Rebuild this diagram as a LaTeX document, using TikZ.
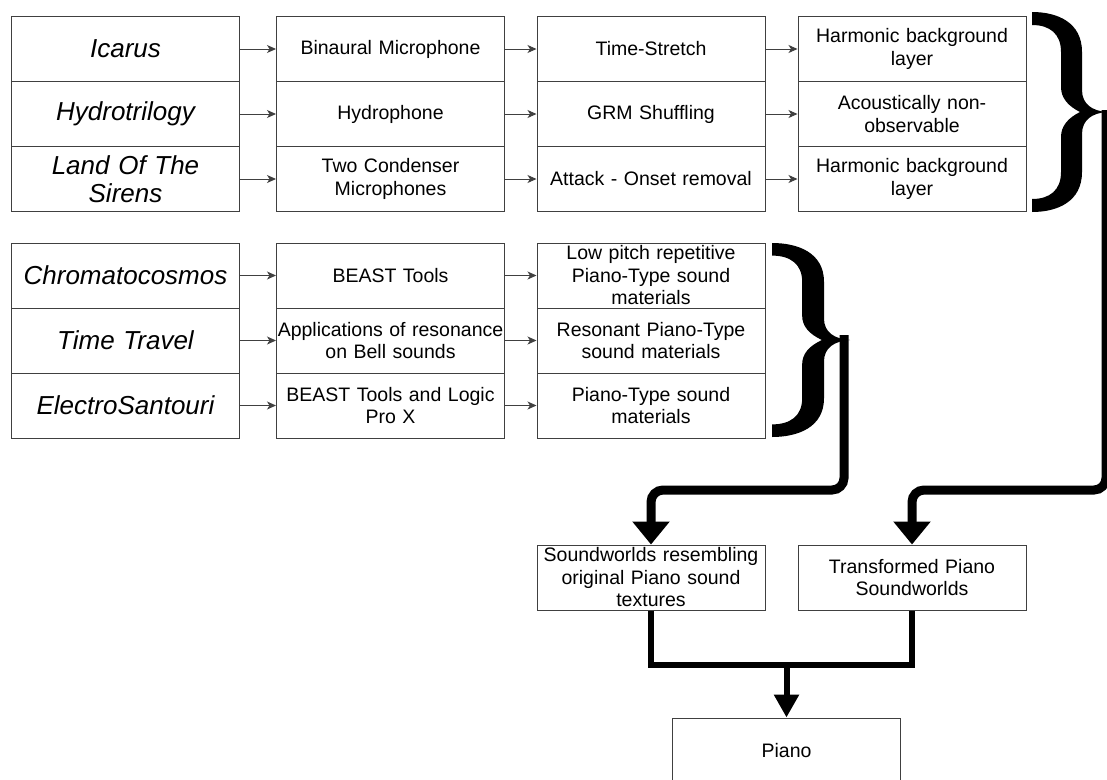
\documentclass[tikz,border=0pt]{standalone}
\usepackage{fontspec}
\setmainfont{Liberation Sans}
\usetikzlibrary{arrows.meta}
\tikzset{
  box/.style={draw=black!75, line width=1pt, fill=white, minimum width=228pt, minimum height=65pt,
    text width=226pt, align=center, inner xsep=1pt, inner ysep=0pt, font=\fontsize{19.5}{22.5}\selectfont},
  piece/.style={box, font=\fontsize{26}{28.5}\selectfont\itshape},
  thin/.style={draw=black!75, line width=1pt, -{Stealth[length=9pt,width=8pt,inset=2.5pt]}},
  fat/.style={line width=9pt, rounded corners=12pt, -{Triangle[length=23pt,width=36pt]}},
  merge/.style={line width=6pt},
  bigbrace/.pic={
    \fill (0,0) .. controls (25,0) and (50,10) .. (50,40) -- (50,78) .. controls (50,92) and (60,99) .. (75,100)
      .. controls (60,101) and (50,108) .. (50,122) -- (50,160) .. controls (50,190) and (25,200) .. (0,200)
      -- (0,187) .. controls (18,187) and (29,178) .. (29,160) -- (29,125) .. controls (29,114) and (36,106) .. (48,100)
      .. controls (36,94) and (29,86) .. (29,75) -- (29,40) .. controls (29,22) and (18,13) .. (0,13) -- cycle;
  }
}
\begin{document}
\begin{tikzpicture}[x=1pt,y=-1pt]
  \useasboundingbox (0,0) rectangle (1107,779);
  % first group
  \node[piece] (ic) at (125.5,49) {Icarus};
  \node[piece] (hy) at (125.5,114) {Hydrotrilogy};
  \node[piece] (ls) at (125.5,179) {Land Of The\\Sirens};
  \node[box] (bm) at (390.5,49) {Binaural Microphone};
  \node[box] (hp) at (390.5,114) {Hydrophone};
  \node[box] (tc) at (390.5,179) {Two Condenser\\Microphones};
  \node[box] (ts) at (651,49) {Time-Stretch};
  \node[box] (gs) at (651,114) {GRM Shuffling};
  \node[box] (ao) at (651,179) {Attack - Onset removal};
  \node[box] (hb1) at (912,49) {Harmonic background\\layer};
  \node[box] (an) at (912,114) {Acoustically non-\\observable};
  \node[box] (hb2) at (912,179) {Harmonic background\\layer};
  % second group
  \node[piece] (ch) at (125.5,275.5) {Chromatocosmos};
  \node[piece] (tt) at (125.5,340.5) {Time Travel};
  \node[piece] (es) at (125.5,405.5) {ElectroSantouri};
  \node[box] (bt) at (390.5,275.5) {BEAST Tools};
  \node[box] (ar) at (390.5,340.5) {Applications of resonance\\on Bell sounds};
  \node[box] (bl) at (390.5,405.5) {BEAST Tools and Logic\\Pro X};
  \node[box] (lp) at (651,275.5) {Low pitch repetitive\\Piano-Type sound\\materials};
  \node[box] (rp) at (651,340.5) {Resonant Piano-Type\\sound materials};
  \node[box] (pt) at (651,405.5) {Piano-Type sound\\materials};
  % results
  \node[box] (sw) at (651,577.5) {Soundworlds resembling\\original Piano sound\\textures};
  \node[box] (tp) at (912,577.5) {Transformed Piano\\Soundworlds};
  \node[box] (pi) at (786.5,750.5) {Piano};

  \draw[thin] (ic) -- (bm);
  \draw[thin] (hy) -- (hp);
  \draw[thin] (ls) -- (tc);
  \draw[thin] (bm) -- (ts);
  \draw[thin] (hp) -- (gs);
  \draw[thin] (tc) -- (ao);
  \draw[thin] (ts) -- (hb1);
  \draw[thin] (gs) -- (an);
  \draw[thin] (ao) -- (hb2);
  \draw[thin] (ch) -- (bt);
  \draw[thin] (tt) -- (ar);
  \draw[thin] (es) -- (bl);
  \draw[thin] (bt) -- (lp);
  \draw[thin] (ar) -- (rp);
  \draw[thin] (bl) -- (pt);

  % braces and thick lines
  \pic at (1032,12) {bigbrace};
  \pic[xscale=1.04,yscale=0.97] at (772,243) {bigbrace};
  \coordinate (tip1) at (1106,110);
  \coordinate (turn1) at (1106,490);
  \coordinate (tip2) at (844,335);
  \coordinate (turn2) at (844,490);
  \draw[fat] (tip1) -- (turn1) -| (tp.north);
  \draw[fat] (tip2) -- (turn2) -| (sw.north);

  \coordinate (mid) at (786.5,665);
  \draw[merge] (sw.south) -- (sw.south |- mid) -- (tp.south |- mid) -- (tp.south);
  \draw[merge, -{Triangle[length=23pt,width=24pt]}] (mid) -- (pi.north);
\end{tikzpicture}
\end{document}
